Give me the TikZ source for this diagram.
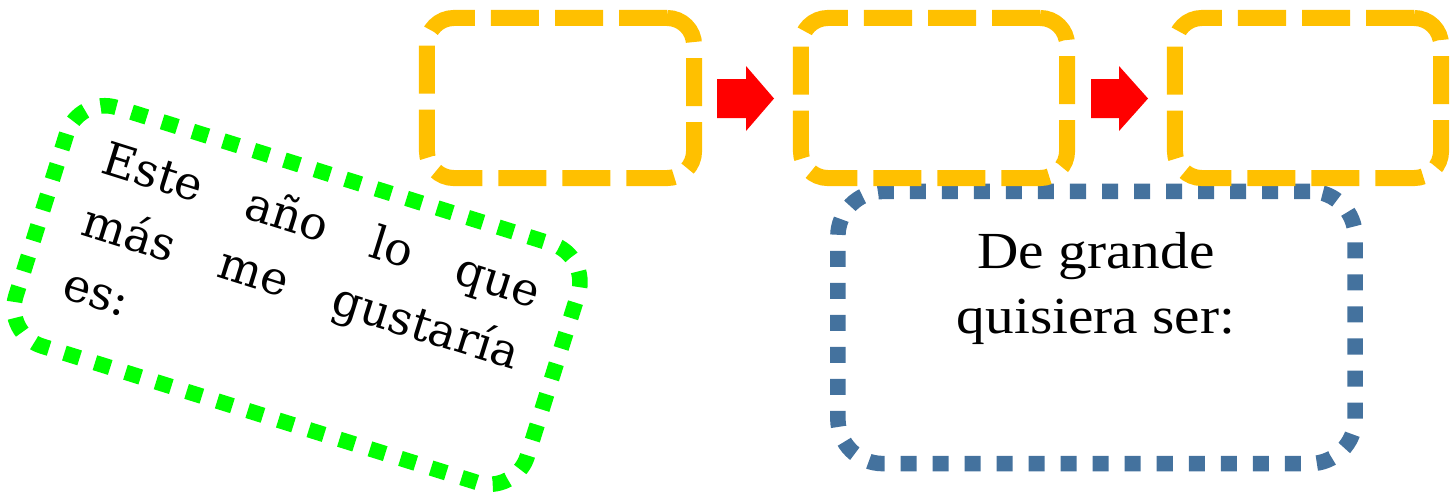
\documentclass[tikz,border=0pt]{standalone}
\usepackage{fontspec}
\setmainfont{Liberation Serif}
\newfontfamily\greenfont{DejaVu Serif}
\definecolor{boxorange}{HTML}{FFC000}
\definecolor{boxgreen}{HTML}{00FF00}
\definecolor{boxblue}{HTML}{44729E}
\begin{document}
\begin{tikzpicture}[x=0.01cm,y=-0.01cm,
  orangebox/.style={draw=boxorange, line width=0.16cm, dash pattern=on 0.48cm off 0.16cm,
    rounded corners=0.27cm, minimum width=2.66cm, minimum height=1.6cm, inner sep=0pt},
  bluebox/.style={draw=boxblue, line width=0.155cm, dash pattern=on 0.16cm off 0.16cm,
    rounded corners=0.45cm, minimum width=5.17cm, minimum height=2.72cm, inner sep=0pt},
  greenline/.style={draw=boxgreen, line width=0.155cm, dash pattern=on 0.16cm off 0.16cm,
    rounded corners=0.4cm},
  bluetext/.style={anchor=base, inner sep=0pt, xscale=1.1, transform shape,
    font=\fontsize{14.8}{18.5}\selectfont},
  greentext/.style={anchor=base west, inner sep=0pt, transform shape,
    font=\greenfont\fontsize{13.1}{18.6}\selectfont},
  redarrow/.style={fill=red, draw=none}]
\useasboundingbox (0,0) rectangle (1455,496);
% blue dotted box
\node[bluebox] (blue) at (1096.5,327.5) {};
\node[bluetext] (bt1) at (1096,268) {De grande};
\node[bluetext] (bt2) at (1096,333) {quisiera ser:};
% orange dashed boxes
\node[orangebox, minimum width=2.67cm] (o1) at (560.5,98) {};
\node[orangebox] (o2) at (934,98) {};
\node[orangebox] (o3) at (1308,98) {};
% red block arrows
\fill[redarrow] (717,79) -- (746,79) -- (746,66) -- (774,98.5) -- (746,131) -- (746,118) -- (717,118) -- cycle;
\fill[redarrow] (1091,79) -- (1119,79) -- (1119,66) -- (1148,98.5) -- (1119,131) -- (1119,118) -- (1091,118) -- cycle;
% green rotated box
\begin{scope}[shift={(297,295)}, rotate=-17.4]
  \draw[greenline] (-268,-125) rectangle (268,125);
  \node[greentext] (g1) at (-226,-58) {\hbox to 4.56cm{Este\hfill año\hfill lo\hfill que}};
  \node[greentext] (g2) at (-226,7) {\hbox to 4.54cm{más\hfill me\hfill gustaría}};
  \node[greentext] (g3) at (-226,73) {es:};
\end{scope}
\end{tikzpicture}
\end{document}
